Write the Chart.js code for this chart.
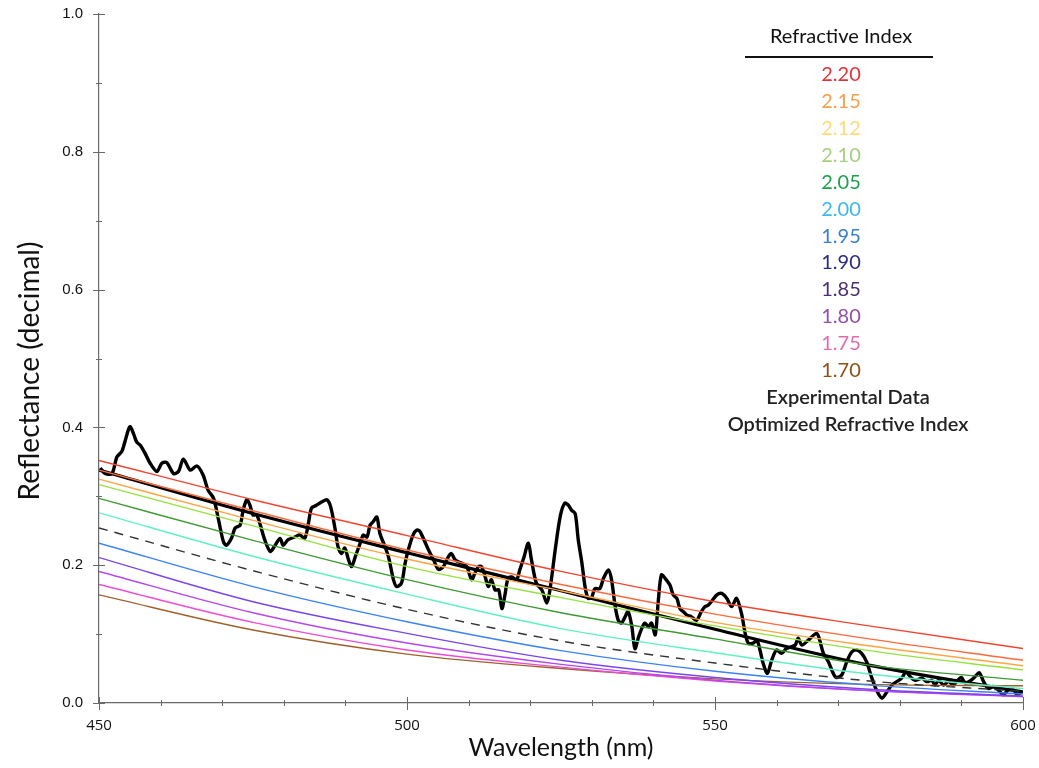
<!DOCTYPE html>
<html>
<head>
<meta charset="utf-8">
<script src="https://cdn.jsdelivr.net/npm/chart.js@4.4.1/dist/chart.umd.min.js"></script>
<style>
  html, body { margin: 0; padding: 0; background: #ffffff; }
  canvas { display: block; }
</style>
</head>
<body>
<canvas id="c" width="1039" height="768"></canvas>
<script>
// ---------- DATA ----------
const modelWl = [450, 475, 500, 525, 550, 575, 600];
const n220 = [0.352, 0.295, 0.243, 0.191, 0.147, 0.112, 0.079];
const n215 = [0.338, 0.279, 0.222, 0.172, 0.129, 0.093, 0.062];
const n212 = [0.325, 0.265, 0.209, 0.163, 0.117, 0.083, 0.054];
const n210 = [0.317, 0.257, 0.198, 0.153, 0.112, 0.076, 0.048];
const n205 = [0.297, 0.236, 0.179, 0.131, 0.093, 0.055, 0.033];
const n200 = [0.276, 0.213, 0.158, 0.108, 0.073, 0.042, 0.021];
const n195 = [0.254, 0.192, 0.136, 0.090, 0.058, 0.032, 0.017];
const n190 = [0.232, 0.169, 0.118, 0.076, 0.046, 0.026, 0.013];
const n185 = [0.211, 0.147, 0.101, 0.062, 0.037, 0.020, 0.010];
const n180 = [0.191, 0.131, 0.087, 0.056, 0.033, 0.018, 0.009];
const n175 = [0.172, 0.117, 0.077, 0.052, 0.032, 0.018, 0.010];
const n170 = [0.157, 0.106, 0.071, 0.050, 0.035, 0.027, 0.025];
const optimized = [0.338, 0.275, 0.218, 0.163, 0.107, 0.055, 0.016];

const expWl = [450.2,451.0,452.1,452.9,453.7,454.2,455.0,455.6,456.1,456.7,457.5,458.3,459.4,460.2,461.0,462.1,462.9,463.7,464.8,465.9,466.9,467.7,468.6,469.4,470.2,470.7,471.5,472.1,472.9,473.4,474.0,474.5,475.0,475.6,476.1,476.9,477.8,478.6,479.4,479.9,480.7,481.8,482.6,483.4,484.0,484.5,485.3,486.2,487.0,487.6,488.3,488.8,489.4,489.9,490.5,491.0,491.6,492.4,492.9,493.5,494.0,494.5,495.1,495.6,496.2,497.0,497.8,498.3,499.1,499.7,500.2,501.0,501.6,502.1,502.9,503.5,504.3,505.1,505.9,506.7,507.2,507.8,508.3,508.9,509.7,510.5,511.0,511.6,512.1,512.7,513.2,513.7,514.3,514.9,515.4,515.9,516.4,517.0,517.8,518.3,519.0,519.7,520.2,521.0,521.9,522.7,523.2,524.1,524.9,525.6,526.2,526.7,527.3,527.8,528.4,528.9,529.4,530.0,530.5,531.3,531.9,532.7,533.2,533.8,534.3,534.8,535.4,535.9,536.5,537.0,537.6,538.1,538.6,539.2,539.7,540.3,540.8,541.3,541.9,542.7,543.2,543.8,544.3,544.8,545.4,546.2,547.0,547.8,548.4,548.9,549.4,550.3,551.1,551.9,552.7,553.5,554.3,554.9,555.4,556.2,556.8,557.3,557.8,558.5,559.2,560.0,560.8,561.6,563.0,563.5,564.1,565.1,566.5,567.0,567.6,568.4,569.2,569.7,570.6,571.4,572.2,573.0,573.8,574.6,575.4,576.2,577.1,577.9,578.7,579.5,580.3,581.0,581.7,582.5,583.6,584.4,585.2,585.7,586.3,587.1,587.9,588.7,589.2,590.0,590.6,591.4,592.2,592.9,593.6,594.4,595.2,596.0,596.8,597.6,598.5,599.0,599.8];
const expR = [0.341,0.333,0.333,0.357,0.365,0.379,0.401,0.391,0.379,0.374,0.362,0.348,0.336,0.348,0.349,0.333,0.336,0.354,0.338,0.344,0.331,0.309,0.297,0.266,0.234,0.229,0.239,0.254,0.258,0.280,0.295,0.287,0.273,0.273,0.261,0.237,0.220,0.229,0.239,0.229,0.237,0.241,0.244,0.239,0.261,0.283,0.287,0.292,0.295,0.285,0.254,0.227,0.217,0.225,0.208,0.198,0.212,0.232,0.244,0.241,0.258,0.263,0.270,0.246,0.232,0.212,0.179,0.169,0.174,0.203,0.222,0.244,0.251,0.249,0.234,0.222,0.208,0.194,0.198,0.212,0.217,0.208,0.205,0.203,0.198,0.179,0.188,0.198,0.198,0.183,0.169,0.179,0.164,0.164,0.137,0.157,0.181,0.183,0.179,0.193,0.212,0.232,0.208,0.174,0.164,0.145,0.164,0.225,0.272,0.290,0.287,0.280,0.275,0.237,0.203,0.169,0.152,0.154,0.166,0.166,0.181,0.193,0.179,0.140,0.120,0.116,0.125,0.133,0.111,0.079,0.096,0.108,0.116,0.111,0.116,0.099,0.149,0.186,0.181,0.171,0.157,0.152,0.137,0.133,0.128,0.125,0.120,0.133,0.140,0.142,0.147,0.157,0.159,0.152,0.140,0.152,0.130,0.101,0.087,0.087,0.091,0.077,0.058,0.043,0.062,0.077,0.072,0.079,0.084,0.094,0.084,0.091,0.101,0.091,0.072,0.060,0.043,0.037,0.041,0.060,0.074,0.077,0.072,0.060,0.038,0.019,0.007,0.016,0.026,0.031,0.036,0.045,0.038,0.033,0.036,0.031,0.033,0.026,0.033,0.026,0.031,0.026,0.031,0.037,0.029,0.032,0.038,0.044,0.031,0.021,0.024,0.019,0.012,0.019,0.019,0.012,0.016];

const legendTitle = 'Refractive Index';
const legendLabels = ['2.20','2.15','2.12','2.10','2.05','2.00','1.95','1.90','1.85','1.80','1.75','1.70','Experimental Data','Optimized Refractive Index'];
const xTitle = 'Wavelength (nm)';
const yTitle = 'Reflectance (decimal)';
const xTickValues = [450, 500, 550, 600];
const yTickValues = [0, 0.2, 0.4, 0.6, 0.8, 1.0];

// ---------- STYLE ----------
const legendColors = ['#e0343a','#f4a04c','#fbdc78','#a6cf80','#1f9f50','#3bb8ee','#3b7fc6','#2b2d80','#4b2f6f','#9150a8','#e06cae','#8b5118','#222222','#222222'];
const lineColors = ['#f2452f','#ff6a3c','#ffa543','#96e23f','#3f9a34','#5ff0c4','#333333','#3b82f7','#7a45ee','#b447ec','#f04bd3','#a0622c'];
const modelSeries = [n220, n215, n212, n210, n205, n200, n195, n190, n185, n180, n175, n170];
const toPts = (xs, ys) => xs.map((x, i) => ({x: x, y: ys[i]}));

const datasets = modelSeries.map((s, i) => ({
  label: legendLabels[i],
  data: toPts(modelWl, s),
  borderColor: lineColors[i],
  borderWidth: 1.4,
  borderDash: i === 6 ? [9, 7] : [],
  pointRadius: 0,
  cubicInterpolationMode: 'monotone',
  fill: false
}));
datasets.push({
  label: legendLabels[12],
  data: toPts(expWl, expR),
  borderColor: '#000000',
  borderWidth: 3.4,
  pointRadius: 0,
  tension: 0.3,
  borderJoinStyle: 'round',
  fill: false
});
datasets.push({
  label: legendLabels[13],
  data: toPts(modelWl, optimized),
  borderColor: '#000000',
  borderWidth: 3.2,
  pointRadius: 0,
  cubicInterpolationMode: 'monotone',
  fill: false
});

const tickPlugin = {
  id: 'ticksAndLegend',
  afterDraw(chart) {
    const {ctx, scales: {x, y}} = chart;
    const ax = x.getPixelForValue(450);
    const ay = y.getPixelForValue(0);
    ctx.save();
    ctx.strokeStyle = '#6a6a6a';
    ctx.lineWidth = 1;
    for (let v = 450; v <= 600; v += 10) {
      const px = Math.round(x.getPixelForValue(v)) + 0.5;
      const major = v % 50 === 0;
      ctx.beginPath();
      ctx.moveTo(px, ay - (major ? 6 : 3));
      ctx.lineTo(px, ay + (major ? 7 : 3));
      ctx.stroke();
    }
    for (let k = 0; k <= 10; k++) {
      const py = Math.round(y.getPixelForValue(k / 10)) + 0.5;
      const major = k % 2 === 0;
      ctx.beginPath();
      ctx.moveTo(ax - (major ? 6 : 3), py);
      ctx.lineTo(ax + (major ? 6 : 3), py);
      ctx.stroke();
    }
    // y-axis title
    ctx.save();
    ctx.translate(30, 371);
    ctx.rotate(-Math.PI / 2);
    ctx.textAlign = 'center';
    ctx.textBaseline = 'middle';
    ctx.fillStyle = '#111111';
    ctx.font = '28px Lato';
    ctx.fillText(yTitle, 0, 0);
    ctx.restore();
    // legend
    const cx = 841;
    ctx.textAlign = 'center';
    ctx.textBaseline = 'middle';
    ctx.fillStyle = '#111111';
    ctx.font = '20px Lato';
    ctx.fillText(legendTitle, cx, 37);
    ctx.strokeStyle = '#111111';
    ctx.lineWidth = 2;
    ctx.beginPath();
    ctx.moveTo(745, 57);
    ctx.lineTo(933, 57);
    ctx.stroke();
    legendLabels.forEach((t, i) => {
      ctx.fillStyle = legendColors[i];
      ctx.font = (i >= 12 ? '600 ' : '') + '20px Lato';
      ctx.fillText(t, cx + (i >= 12 ? 7 : 0), 75 + i * 26.85);
    });
    ctx.restore();
  }
};

new Chart(document.getElementById('c'), {
  type: 'line',
  data: { datasets: datasets },
  options: {
    responsive: false,
    animation: false,
    layout: { padding: { left: 0, right: 16, top: 14, bottom: 0 } },
    plugins: { legend: { display: false }, tooltip: { enabled: false } },
    scales: {
      x: {
        type: 'linear',
        min: 450, max: 600,
        afterBuildTicks: s => { s.ticks = xTickValues.map(v => ({value: v})); },
        afterFit: s => { s.height = 65; s.paddingRight = 0; s.paddingLeft = 0; },
        grid: { display: false },
        border: { display: true, color: '#6a6a6a', width: 1.2 },
        ticks: { padding: 6, color: '#111111', font: { family: 'Open Sans', size: 15 }, maxRotation: 0 },
        title: { display: true, text: xTitle, color: '#111111', font: { family: 'Lato', size: 25 }, padding: { top: 0, bottom: 5 } }
      },
      y: {
        type: 'linear',
        min: 0, max: 1,
        afterBuildTicks: s => { s.ticks = yTickValues.map(v => ({value: v})); },
        afterFit: s => { s.width = 99; s.paddingTop = 0; s.paddingBottom = 0; },
        grid: { display: false },
        border: { display: true, color: '#6a6a6a', width: 1.2 },
        ticks: { padding: 8, color: '#111111', font: { family: 'Liberation Sans', size: 15 }, callback: v => Number(v).toFixed(1) },
        title: { display: false }
      }
    }
  },
  plugins: [tickPlugin]
});
</script>
</body>
</html>
